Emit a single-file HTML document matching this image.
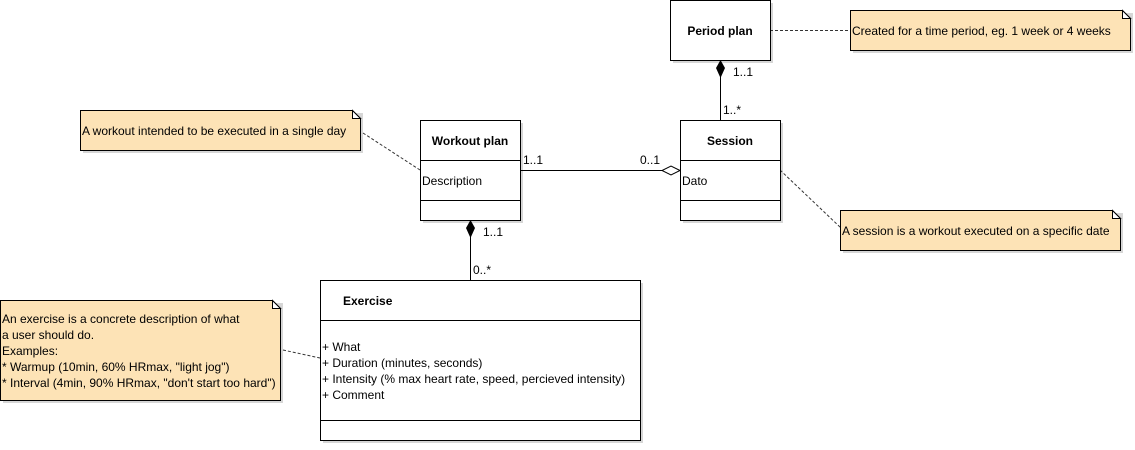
<!DOCTYPE html>
<html><head><meta charset="utf-8"><style>
html,body{margin:0;padding:0;background:#fff;}
svg text{font-family:"Liberation Sans",Arial,sans-serif;font-size:12px;fill:#000;}
.b{font-weight:bold;}
</style></head><body>
<svg width="1135" height="445" xmlns="http://www.w3.org/2000/svg">
<defs>
<g id="sh"></g>
</defs>
<!-- shadows -->
<g fill="#d6d6d6">
<rect x="673" y="3" width="100" height="60"/>
<rect x="423" y="123" width="100" height="100"/>
<rect x="683" y="123" width="100" height="100"/>
<rect x="323" y="283" width="320" height="160"/>
<rect x="83" y="113" width="280" height="40"/>
<rect x="853" y="13" width="280" height="40"/>
<rect x="843" y="213" width="280" height="40"/>
<rect x="3" y="303" width="280" height="100"/>
</g>
<!-- connectors -->
<g stroke="#000" fill="none" stroke-width="1">
<line x1="720.5" y1="60" x2="720.5" y2="120"/>
<line x1="470.5" y1="220" x2="470.5" y2="280"/>
<line x1="520" y1="170.5" x2="680" y2="170.5"/>
</g>
<g stroke="#333" stroke-dasharray="3,2" fill="none">
<line x1="770" y1="30.5" x2="850" y2="30.5"/>
<line x1="363" y1="133" x2="420" y2="170"/>
<line x1="780" y1="170" x2="841" y2="228"/>
<line x1="283" y1="350" x2="320" y2="358"/>
</g>
<!-- diamonds -->
<path d="M720.5 60 L725 68 L720.5 78 L716 68 Z" fill="#000"/>
<path d="M470.5 220 L475 228 L470.5 238 L466 228 Z" fill="#000"/>
<path d="M680 170.5 L671 166 L662 170.5 L671 175 Z" fill="#fff" stroke="#000"/>
<!-- classes -->
<g fill="#fff" stroke="#000">
<rect x="670.5" y="0.5" width="100" height="60"/>
<rect x="420.5" y="120.5" width="100" height="100"/>
<rect x="680.5" y="120.5" width="100" height="100"/>
<rect x="320.5" y="280.5" width="320" height="160"/>
</g>
<g stroke="#000">
<line x1="420" y1="160.5" x2="520" y2="160.5"/><line x1="420" y1="200.5" x2="520" y2="200.5"/>
<line x1="680" y1="160.5" x2="780" y2="160.5"/><line x1="680" y1="200.5" x2="780" y2="200.5"/>
<line x1="320" y1="320.5" x2="640" y2="320.5"/><line x1="320" y1="420.5" x2="640" y2="420.5"/>
</g>
<text class="b" x="720" y="35" text-anchor="middle">Period plan</text>
<text class="b" x="470" y="145" text-anchor="middle">Workout plan</text>
<text class="b" x="730" y="145" text-anchor="middle">Session</text>
<text class="b" x="343" y="305">Exercise</text>
<text x="422" y="185">Description</text>
<text x="682" y="185">Dato</text>
<text x="322" y="351">+ What</text>
<text x="322" y="367">+ Duration (minutes, seconds)</text>
<text x="322" y="383">+ Intensity (% max heart rate, speed, percieved intensity)</text>
<text x="322" y="399">+ Comment</text>
<!-- multiplicities -->
<text x="733" y="76">1..1</text>
<text x="723" y="114">1..*</text>
<text x="523" y="164">1..1</text>
<text x="640" y="164">0..1</text>
<text x="483" y="236">1..1</text>
<text x="473" y="274">0..*</text>
<!-- notes -->
<g fill="#fde3b6" stroke="#000">
<path d="M80.5 110.5 H352.5 L360.5 118.5 V150.5 H80.5 Z"/>
<path d="M850.5 10.5 H1122.5 L1130.5 18.5 V50.5 H850.5 Z"/>
<path d="M840.5 210.5 H1112.5 L1120.5 218.5 V250.5 H840.5 Z"/>
<path d="M0.5 300.5 H272.5 L280.5 308.5 V400.5 H0.5 Z"/>
</g>
<g fill="#fff" stroke="#000">
<path d="M352.5 110.5 V118.5 H360.5 Z"/>
<path d="M1122.5 10.5 V18.5 H1130.5 Z"/>
<path d="M1112.5 210.5 V218.5 H1120.5 Z"/>
<path d="M272.5 300.5 V308.5 H280.5 Z"/>
</g>
<text x="82" y="135">A workout intended to be executed in a single day</text>
<text x="852" y="35">Created for a time period, eg. 1 week or 4 weeks</text>
<text x="842" y="235">A session is a workout executed on a specific date</text>
<text x="2" y="323">An exercise is a concrete description of what</text>
<text x="2" y="339">a user should do.</text>
<text x="2" y="355">Examples:</text>
<text x="2" y="371">* Warmup (10min, 60% HRmax, "light jog")</text>
<text x="2" y="387">* Interval (4min, 90% HRmax, "don't start too hard")</text>
</svg>
</body></html>
